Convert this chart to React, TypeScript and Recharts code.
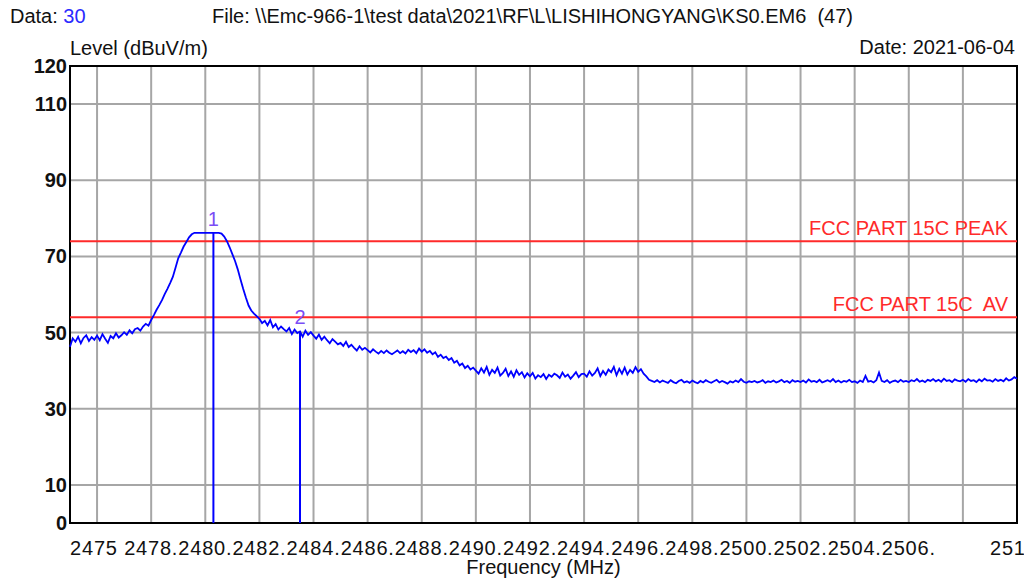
import React from "react";
import {
  LineChart, Line, XAxis, YAxis, CartesianGrid, ReferenceLine, ReferenceArea,
} from "recharts";

// sweep: 2475 MHz .. 2510 MHz, 0.1 MHz per point
const START_FREQ = 2475;
const STEP = 0.1;

const levels = [
  46.3, 48.5, 47.6, 48.9, 47.2, 48.6, 49.3, 47.8, 48.8, 48.1,
  49.2, 48.0, 49.6, 48.4, 47.3, 49.1, 48.5, 49.8, 48.7, 49.3,
  50.1, 49.4, 50.6, 49.8, 50.9, 51.2, 50.5, 51.6, 52.3, 51.8,
  53.3, 54.6, 56.0, 57.2, 58.5, 60.1, 61.5, 63.0, 64.6, 67.0,
  69.5, 71.0, 72.6, 73.8, 75.0, 75.8, 76.2, 76.2, 76.2, 76.2,
  76.2, 76.2, 76.2, 76.2, 76.2, 76.2, 76.0, 75.2, 74.0, 72.4,
  70.6, 68.8, 66.6, 64.0, 61.5, 59.2, 57.1, 55.8, 55.0, 54.3,
  53.6, 52.5, 53.1, 51.9, 53.3, 51.4, 52.2, 50.8, 51.6, 50.9,
  50.3, 51.2, 49.6, 50.8, 49.9, 50.3, 48.9, 50.5, 49.4, 50.1,
  49.2, 48.4, 49.5, 48.1, 48.9, 48.0, 47.2, 48.3, 47.6, 46.9,
  47.3, 46.5, 47.6, 46.2, 46.8, 46.0, 45.3, 46.4, 45.5, 46.0,
  45.4, 44.8, 45.6, 45.0, 44.5, 45.2, 44.6, 45.3, 44.7, 44.3,
  44.8, 45.3, 44.6, 45.1, 44.5, 45.5, 44.9, 45.4, 44.6, 45.8,
  45.0, 45.6, 44.7, 45.2, 44.3, 44.8, 43.6, 44.2, 43.3, 43.7,
  42.8, 43.3, 42.1, 42.6, 41.4, 41.9, 40.7, 41.3, 40.3, 40.8,
  40.0, 39.2, 40.6, 39.5, 41.0, 38.9, 40.2, 39.4, 40.8, 38.7,
  39.4, 40.5, 38.6, 39.8, 38.4, 40.1, 38.9, 39.6, 38.2, 39.3,
  38.5, 39.4, 37.9, 38.8, 38.3, 39.1, 37.8, 38.9, 38.4, 39.2,
  38.8, 38.1, 39.5, 38.4, 39.0, 37.9, 38.7, 39.6, 38.3, 39.1,
  39.2, 38.4, 39.8, 38.7, 39.4, 40.6, 38.6, 39.9, 38.9, 40.3,
  39.6, 41.0, 38.8, 40.5, 39.2, 40.8, 39.0, 40.2, 39.4, 40.9,
  39.7, 40.4, 39.2, 38.5, 37.6, 37.3, 37.0, 37.5, 36.9, 37.4,
  37.1, 36.8, 37.5, 37.0, 36.7, 37.3, 37.6, 36.9, 37.2, 36.8,
  37.4, 37.0, 36.7, 37.3, 36.9, 37.5, 37.1, 36.8, 37.2, 37.6,
  36.9, 37.3, 37.0, 36.6, 37.2, 36.9, 37.4, 37.0, 37.8, 37.1,
  36.8, 37.2, 37.0, 37.3, 36.9, 37.1, 37.5, 36.8, 37.2, 37.0,
  37.4, 36.9, 37.2, 37.6, 37.0, 37.3, 36.8, 37.5, 37.1, 37.3,
  37.0, 37.4, 36.9, 37.7, 37.1, 37.3, 37.0, 37.6, 36.9, 37.2,
  37.5, 37.1, 37.8, 37.0, 37.4, 36.9, 37.3, 37.1, 37.6, 37.0,
  37.2, 36.8, 37.4, 37.0, 38.6, 37.1, 37.3, 36.9, 37.5, 39.5,
  37.3, 37.0, 37.5, 36.8, 37.2, 37.4, 37.0, 37.6, 37.1, 37.3,
  37.0, 37.5, 37.2, 37.8, 37.1, 37.4, 37.0, 37.6, 37.3, 37.8,
  37.2, 37.6, 37.1, 37.9, 37.3, 37.5, 37.0, 37.7, 37.4, 37.2,
  37.6, 37.1, 37.8, 37.3, 37.5, 37.0, 37.7, 37.2, 37.9, 37.4,
  37.5, 37.1, 37.8, 37.3, 37.6, 37.2, 38.0, 37.4, 37.7, 38.3,
  37.9,
];

const xTicks = [2476, 2478, 2480, 2482, 2484, 2486, 2488, 2490, 2492, 2494, 2496, 2498, 2500, 2502, 2504, 2506, 2508, 2510];
const xTickLabels = ["2475", "2478.", "2480.", "2482.", "2484.", "2486.", "2488.", "2490.", "2492.", "2494.", "2496.", "2498.", "2500.", "2502.", "2504.", "2506.", "", "2510"];
const yTicks = [0, 10, 30, 50, 70, 90, 110, 120];

const limitLevels = [74, 54];
const limitNames = ["FCC PART 15C PEAK", "FCC PART 15C  AV"];

const markerFreqs = [2480.3, 2483.5];
const markerLevels = [76.2, 50.3];
const markerNames = ["1", "2"];

const data = levels.map((level, i) => ({
  freq: Math.round((START_FREQ + i * STEP) * 10) / 10,
  level,
}));

const FONT = '"Liberation Sans", Arial, sans-serif';
const BLUE = "#0000ff";
const RED = "#ff2a2a";
const MARK = "#7a4cf5";

const XTick = ({ x, y, payload }: any) => {
  const idx = xTicks.indexOf(payload.value);
  return (
    <text x={x - 27} y={y + 24} textAnchor="start" fontSize={20} letterSpacing={0.8} fontFamily={FONT} fill="#111">
      {xTickLabels[idx] ?? ""}
    </text>
  );
};

const YTick = ({ y, payload }: any) => (
  <text x={67} y={y + 7} textAnchor="end" fontSize={20} fontWeight="bold" fontFamily={FONT} fill="#111">
    {payload.value}
  </text>
);

const limitLabel = (name: string) => ({ viewBox }: any) => (
  <text
    x={viewBox.x + viewBox.width - 9}
    y={viewBox.y - 6}
    textAnchor="end"
    fontSize={20}
    fontFamily={FONT}
    fill={RED}
    style={{ whiteSpace: "pre" }}
  >
    {name}
  </text>
);

const markerLabel = (name: string) => ({ viewBox }: any) => (
  <text x={viewBox.x} y={viewBox.y - 7} textAnchor="middle" fontSize={20} fontFamily={FONT} fill={MARK}>
    {name}
  </text>
);

const textStyle: React.CSSProperties = {
  position: "absolute",
  fontFamily: FONT,
  fontSize: 20,
  lineHeight: "20px",
  color: "#111",
  whiteSpace: "pre",
};

export default function App() {
  return (
    <div style={{ position: "absolute", left: 0, top: 0, width: 1024, height: 579, background: "#fff", overflow: "hidden" }}>
      <div style={{ ...textStyle, left: 10, top: 6 }}>
        Data: <span style={{ color: "#2a2aff" }}>30</span>
      </div>
      <div style={{ ...textStyle, left: 212, top: 6 }}>
        {"File: \\\\Emc-966-1\\test data\\2021\\RF\\L\\LISHIHONGYANG\\KS0.EM6  (47)"}
      </div>
      <div style={{ ...textStyle, left: 70, top: 38 }}>Level (dBuV/m)</div>
      <div style={{ ...textStyle, right: 9, top: 37 }}>Date: 2021-06-04</div>
      <div style={{ ...textStyle, left: 0, width: 1087, textAlign: "center", top: 557 }}>Frequency (MHz)</div>

      <div style={{ position: "absolute", left: 0, top: 0 }}>
        <LineChart width={1024} height={579} data={data} margin={{ top: 66, right: 7, bottom: 0, left: 0 }}>
          <CartesianGrid stroke="#a6a6a6" strokeWidth={2} />
          <XAxis
            dataKey="freq"
            type="number"
            domain={[2475, 2510]}
            ticks={xTicks}
            interval={0}
            tick={<XTick />}
            axisLine={false}
            tickLine={false}
            height={56}
          />
          <YAxis
            type="number"
            domain={[0, 120]}
            ticks={yTicks}
            interval={0}
            tick={<YTick />}
            axisLine={false}
            tickLine={false}
            width={70}
          />
          <ReferenceArea x1={2475} x2={2510} y1={0} y2={120} fill="none" stroke="#000" strokeWidth={2} />
          {limitLevels.map((lv, i) => (
            <ReferenceLine key={lv} y={lv} stroke={RED} strokeWidth={2} label={limitLabel(limitNames[i])} />
          ))}
          {markerFreqs.map((f, i) => (
            <ReferenceLine
              key={f}
              segment={[{ x: f, y: 0 }, { x: f, y: markerLevels[i] }]}
              stroke={BLUE}
              strokeWidth={2}
              label={markerLabel(markerNames[i])}
            />
          ))}
          <Line
            type="linear"
            dataKey="level"
            stroke={BLUE}
            strokeWidth={1.8}
            dot={false}
            isAnimationActive={false}
          />
        </LineChart>
      </div>
    </div>
  );
}
